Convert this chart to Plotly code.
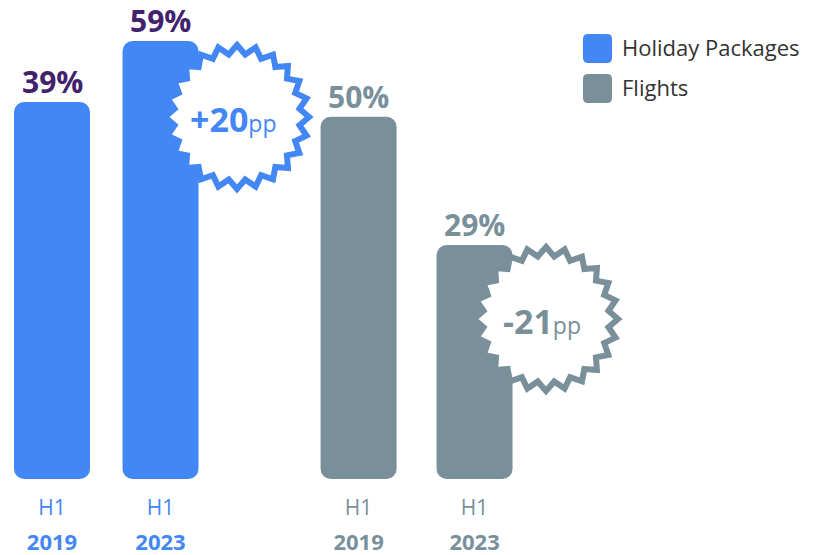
import math
import plotly.graph_objects as go

# ---- data -------------------------------------------------------------
half = "H1"
years = ["2019", "2023"]
holiday_share = [39, 59]      # % of bookings, Holiday Packages
flight_share = [50, 29]       # % of bookings, Flights
holiday_change = "+20"        # percentage points
flight_change = "-21"

# ---- styling ----------------------------------------------------------
BLUE = "#4387f5"
GREY = "#79909b"
PURPLE = "#42226c"
TEXT = "#333333"
FONT = "Open Sans"

W, H = 827, 555
PLOT_BOTTOM = 479           # pixel row of the bar baseline
MARGIN_B = H - PLOT_BOTTOM

# horizontal slots (x-axis units) for each group of bars
HOL_SLOTS = [0.0, 0.976]
FLT_SLOTS = [2.757, 3.8]
SLOT_PX = 111.2
FIRST_PX = 52
X_RANGE = [-FIRST_PX / SLOT_PX, (W - FIRST_PX) / SLOT_PX]
BAR_W = 76 / SLOT_PX

# infographic style: each series has its own (non zero-based) axis floor
HOL_FLOOR, HOL_TOP = -84.6, 72.45
FLT_FLOOR, FLT_TOP = -9.3, 69.1


def px(x, y):
    """pixel position -> paper coordinates"""
    return x / W, (PLOT_BOTTOM - y) / PLOT_BOTTOM


fig = go.Figure()

fig.add_trace(go.Bar(
    x=HOL_SLOTS, y=[v - HOL_FLOOR for v in holiday_share], base=HOL_FLOOR,
    width=BAR_W, marker=dict(color=BLUE, line=dict(width=0)),
    name="Holiday Packages", yaxis="y", showlegend=False, hoverinfo="skip",
))
fig.add_trace(go.Bar(
    x=FLT_SLOTS, y=[v - FLT_FLOOR for v in flight_share], base=FLT_FLOOR,
    width=BAR_W, marker=dict(color=GREY, line=dict(width=0)),
    name="Flights", yaxis="y2", showlegend=False, hoverinfo="skip",
))

annotations = []
shapes = []

# value labels above the bars
for xs, vals, yref, col in [(HOL_SLOTS, holiday_share, "y", PURPLE),
                            (FLT_SLOTS, flight_share, "y2", GREY)]:
    for xv, v in zip(xs, vals):
        annotations.append(dict(
            x=xv, y=v, xref="x", yref=yref, text=f"<b>{v}%</b>",
            showarrow=False, yanchor="bottom", yshift=-1, borderpad=0,
            font=dict(family=FONT, size=30, color=col),
        ))


# starburst badges with the change in percentage points
def star_path(cx, cy, r_out, r_in, n):
    pts = []
    for k in range(2 * n):
        a = -math.pi / 2 + k * math.pi / n
        r = r_out if k % 2 == 0 else r_in
        pts.append(px(cx + r * math.cos(a), cy + r * math.sin(a)))
    return "M " + " L ".join(f"{x:.5f},{y:.5f}" for x, y in pts) + " Z"


for (cx, cy), col, label in [((237, 117), BLUE, holiday_change),
                             ((546, 319), GREY, flight_change)]:
    shapes.append(dict(
        type="path", xref="paper", yref="paper", layer="above",
        path=star_path(cx, cy, 72, 63, 24),
        fillcolor="white", line=dict(color=col, width=6),
    ))
    tx, ty = px(cx - 4, cy + 2)
    annotations.append(dict(
        x=tx, y=ty, xref="paper", yref="paper", showarrow=False,
        xanchor="center", yanchor="middle",
        text=f"<b>{label}</b><span style='font-size:23px'>pp</span>",
        font=dict(family=FONT, size=34, color=col),
    ))


# legend: rounded swatches + labels
def rounded_rect(x0, y0, x1, y1, r):
    p = [("M", x0 + r, y0), ("L", x1 - r, y0), ("Q", x1, y0, x1, y0 + r),
         ("L", x1, y1 - r), ("Q", x1, y1, x1 - r, y1), ("L", x0 + r, y1),
         ("Q", x0, y1, x0, y1 - r), ("L", x0, y0 + r), ("Q", x0, y0, x0 + r, y0)]
    out = []
    for seg in p:
        cmd, coords = seg[0], seg[1:]
        pairs = [px(coords[i], coords[i + 1]) for i in range(0, len(coords), 2)]
        out.append(cmd + " " + " ".join(f"{a:.5f},{b:.5f}" for a, b in pairs))
    return " ".join(out) + " Z"


for (y0, col, name) in [(34, BLUE, "Holiday Packages"), (74, GREY, "Flights")]:
    shapes.append(dict(
        type="path", xref="paper", yref="paper", layer="above",
        path=rounded_rect(583, y0, 612, y0 + 29, 5),
        fillcolor=col, line=dict(width=0),
    ))
    lx, ly = px(620, y0 + 13.5)
    annotations.append(dict(
        x=lx, y=ly, xref="paper", yref="paper", showarrow=False,
        xanchor="left", yanchor="middle", text=name,
        font=dict(family=FONT, size=22, color=TEXT),
    ))

# x tick labels: "H1" over the bold year, coloured by series
tickvals = HOL_SLOTS + FLT_SLOTS
ticktext = []
for col in (BLUE, GREY):
    for yr in years:
        ticktext.append(
            f"<span style='font-size:21px;color:{col}'>{half}</span><br>"
            f"<span style='font-size:22px;color:{col}'><b>{yr}</b></span>"
        )

fig.update_layout(
    width=W, height=H,
    margin=dict(l=0, r=0, t=0, b=MARGIN_B, pad=0),
    paper_bgcolor="white", plot_bgcolor="white",
    barmode="overlay", barcornerradius=10,
    xaxis=dict(range=X_RANGE, tickvals=tickvals, ticktext=ticktext,
               tickfont=dict(family=FONT, size=27), showgrid=False,
               zeroline=False, showline=False, ticks="", fixedrange=True,
               ticklabelstandoff=8),
    yaxis=dict(range=[HOL_FLOOR, HOL_TOP], visible=False, fixedrange=True),
    yaxis2=dict(range=[FLT_FLOOR, FLT_TOP], visible=False, overlaying="y",
                fixedrange=True),
    annotations=annotations, shapes=shapes,
    showlegend=False,
)

fig.write_html("out.html", config={"displayModeBar": False})
